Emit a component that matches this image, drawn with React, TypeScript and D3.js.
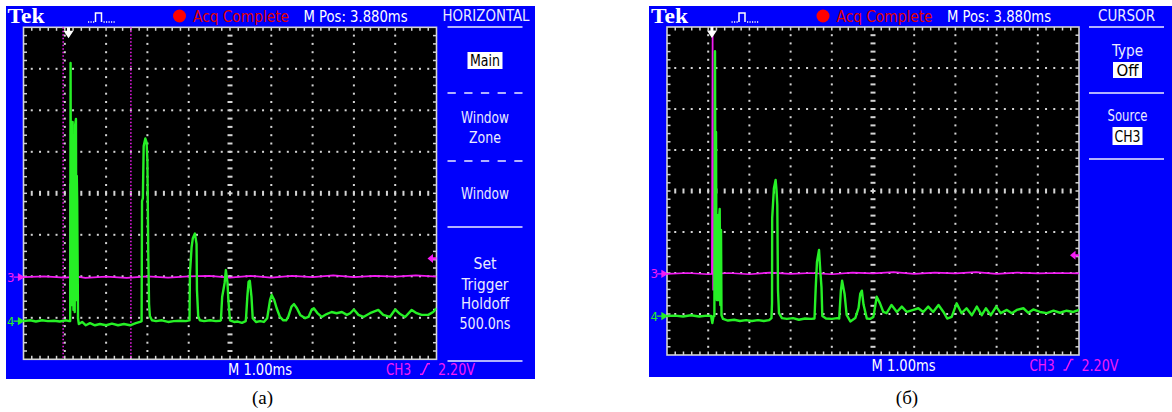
import React from "react";
import * as d3 from "d3";

type Pt = [number, number];

// Screen (a), CH4 green trace: [time in divisions from the left edge, level in divisions above the CH4 marker]
const ch4A: Pt[] = [
  [0, 0], [0.16, 0.02], [0.3, -0.01], [0.45, 0.02], [0.59, 0], [0.74, 0.01], [0.88, -0.01], [1.03, 0.02], [1.11, 0],
  [1.13, 0], [1.14, 6.22], [1.15, 0.51], [1.16, 4.5], [1.17, 4.6], [1.18, 0.39], [1.19, 4.8], [1.2, 1.5], [1.21, 0.27], [1.22, 4.36],
  [1.23, 1.2], [1.24, 0.22], [1.25, 4.72], [1.27, 4.87], [1.28, 0.51], [1.29, 3.5], [1.3, 2.92], [1.32, 0.07], [1.34, -0.07],
  [1.42, -0.02], [1.51, -0.1], [1.61, -0.05], [1.73, -0.1], [1.85, -0.07], [2.0, -0.1], [2.14, -0.06],
  [2.29, -0.1], [2.43, -0.07], [2.58, -0.1], [2.72, -0.05], [2.82, -0.02],
  [2.86, 0], [2.87, 2.89], [2.89, 2.96], [2.91, 4.22], [2.95, 4.4], [2.98, 4.31], [3.0, 3.86], [3.02, 1.71],
  [3.04, 0.41], [3.06, 0.12], [3.11, 0.02],
  [3.21, 0], [3.35, 0.02], [3.5, -0.02], [3.64, 0], [3.79, 0.01], [3.93, 0], [4.01, 0.02],
  [4.02, 0.02], [4.03, 1.16], [4.07, 1.78], [4.1, 2.0], [4.15, 2.11], [4.19, 1.86], [4.2, 0.75], [4.23, 0.12], [4.27, 0.02],
  [4.37, 0], [4.52, 0.02], [4.66, 0], [4.76, 0.01],
  [4.78, 0.02], [4.81, 0.58], [4.84, 0.75], [4.87, 0.92], [4.9, 1.23], [4.94, 0.92], [4.96, 0.51], [5.0, 0.02],
  [5.1, -0.02], [5.19, -0.01], [5.29, -0.04], [5.38, 0],
  [5.39, 0.1], [5.42, 0.59], [5.45, 0.95], [5.48, 0.97], [5.52, 0.59], [5.55, 0.07], [5.63, -0.02], [5.73, 0], [5.82, -0.02],
  [5.9, 0.07], [5.97, 0.51], [6.01, 0.63], [6.07, 0.51], [6.13, 0.31], [6.21, 0.1], [6.29, 0.02], [6.36, 0.02],
  [6.41, 0.1], [6.49, 0.35], [6.55, 0.41], [6.62, 0.31], [6.7, 0.15], [6.82, 0.07],
  [6.9, 0.1], [6.98, 0.28], [7.03, 0.31], [7.11, 0.2], [7.22, 0.1], [7.34, 0.17], [7.46, 0.22], [7.58, 0.19],
  [7.71, 0.22], [7.83, 0.15], [7.91, 0.19], [8.0, 0.28], [8.11, 0.15], [8.23, 0.1], [8.39, 0.19], [8.59, 0.27],
  [8.71, 0.15], [8.87, 0.1], [9.0, 0.28], [9.12, 0.17], [9.24, 0.1], [9.4, 0.27], [9.52, 0.19], [9.64, 0.15],
  [9.8, 0.15], [9.92, 0.22], [10, 0.31],
];

// Screen (a), CH3 magenta trace, level above the CH3 marker
const ch3A: Pt[] = [
  [0, 0], [0.5, 0.02], [1.0, -0.01], [1.12, 0], [1.13, 2.24], [1.14, -0.51], [1.16, -0.02], [1.2, 0.19],
  [1.25, 0.02], [1.5, -0.02], [2, 0.01], [2.5, -0.02], [3, 0.02], [3.5, -0.01], [4, 0.02], [4.5, 0.03],
  [5, -0.01], [5.5, 0.03], [6, -0.01], [6.5, 0.03], [7, 0], [7.5, 0.04], [8, 0], [8.5, 0.03], [9, 0.01],
  [9.5, 0.04], [10, 0.01],
];

// Screen (б), CH4 green trace
const ch4B: Pt[] = [
  [0, 0], [0.19, 0.01], [0.39, -0.01], [0.58, 0.02], [0.78, -0.01], [0.97, 0.01], [1.07, 0], [1.1, -0.17],
  [1.13, 0], [1.15, 0], [1.165, 6.46], [1.18, 0.88], [1.19, 4.49], [1.2, 1.0], [1.21, 0.39], [1.226, 2.46], [1.235, 0.8], [1.245, 0.39],
  [1.262, 2.34], [1.279, 2.61], [1.294, 0.27], [1.311, 2.1], [1.323, 0.02], [1.36, -0.07],
  [1.48, -0.11], [1.63, -0.09], [1.77, -0.12], [1.92, -0.1], [2.06, -0.12], [2.21, -0.1], [2.35, -0.12], [2.48, -0.1],
  [2.536, -0.05], [2.549, 0.32], [2.553, 2.39], [2.595, 3.12], [2.636, 3.32], [2.658, 3.07], [2.677, 2.71],
  [2.694, 0.63], [2.718, 0.07], [2.79, -0.05],
  [2.91, -0.07], [3.06, -0.05], [3.2, -0.09], [3.35, -0.06], [3.5, -0.07], [3.58, -0.06], [3.61, 0.7],
  [3.64, 1.32], [3.69, 1.61], [3.72, 1.11], [3.75, 0.7], [3.77, 0], [3.86, -0.06], [4.0, -0.07], [4.13, -0.05],
  [4.18, -0.06], [4.22, 0.62], [4.25, 0.86], [4.28, 0.7], [4.31, 0.54], [4.36, 0.03], [4.45, -0.13], [4.57, -0.05],
  [4.65, 0.2], [4.69, 0.54], [4.73, 0.62], [4.77, 0.28], [4.85, -0.06], [4.93, -0.07], [5.01, -0.02],
  [5.09, 0.47], [5.17, 0.31], [5.25, 0.1], [5.33, 0.07], [5.45, 0.27], [5.58, 0.1], [5.7, 0.23], [5.82, 0.1],
  [5.98, 0.15], [6.1, 0.19], [6.22, 0.1], [6.34, 0.23], [6.46, 0.1], [6.59, 0.27], [6.71, 0.1], [6.8, -0.06],
  [6.91, -0.02], [7.03, 0.31], [7.15, 0.07], [7.27, 0.19], [7.4, 0.02], [7.52, 0.23], [7.64, 0.02], [7.74, 0.19],
  [7.86, 0.02], [7.99, 0.23], [8.1, 0.07], [8.25, 0.15], [8.37, 0.07], [8.49, 0.15], [8.65, 0.19], [8.77, 0.08],
  [8.89, 0.16], [9.05, 0.1], [9.22, 0.07], [9.38, 0.13], [9.54, 0.08], [9.7, 0.13], [9.86, 0.1], [10, 0.15],
];

// Screen (б), CH3 magenta trace
const ch3B: Pt[] = [
  [0, 0], [0.5, 0.02], [1.0, -0.01], [1.09, 0], [1.107, 5.85], [1.121, -0.39], [1.136, 0], [1.5, 0.02],
  [2, -0.01], [2.5, 0.03], [3, 0], [3.5, 0.02], [4, -0.01], [4.5, 0.03], [5, 0.01], [5.5, 0.04], [6, 0],
  [6.5, 0.03], [7, 0.01], [7.5, 0.04], [8, 0], [8.5, 0.03], [9, 0.01], [9.5, 0.02], [10, 0.01],
];

// channel ground markers, divisions from the bottom of the screen
const ch3PosA = 1.98;
const ch4PosA = 0.92;
const ch3PosB = 1.98;
const ch4PosB = 0.95;
const trigLevel = 2.43; // divisions from bottom
const trigPos = 1.09; // divisions from left
const cursorsA = [0.96, 2.6];

const headerTexts = ["Acq Complete", "M Pos: 3.880ms"];
const footerTexts = ["M 1.00ms", "CH3", "2.20V"];
const menuA = ["HORIZONTAL", "Main", "Window", "Zone", "Window", "Set", "Trigger", "Holdoff", "500.0ns"];
const menuB = ["CURSOR", "Type", "Off", "Source", "CH3"];
const captions = ["(a)", "(б)"];

const FONT = "'Liberation Sans Narrow', 'Arial Narrow', 'DejaVu Sans Condensed', sans-serif";
const SERIF = "'Liberation Serif', 'Times New Roman', serif";
const BLUE = "#0000fc";
const GREEN = "#26f026";
const MAGENTA = "#f41cf4";
const GRID = "#d4d4d4";
const MENU = "#ececff";

type PanelProps = {
  id: string;
  box: [number, number, number, number];
  gx0: number; gx1: number; gy0: number; gy1: number;
  ch4: Pt[]; ch3: Pt[]; ch4Pos: number; ch3Pos: number;
  cursors?: number[];
  menu: (mc: number) => React.ReactNode;
};

const T = (p: any) => (
  <text fontFamily={FONT} lengthAdjust="spacingAndGlyphs" {...p} />
);

function Graticule({ sx, sy }: { sx: d3.ScaleLinear<number, number>; sy: d3.ScaleLinear<number, number> }) {
  const [x0, x1] = sx.range();
  const [y1, y0] = sy.range();
  const fx = d3.range(1, 50).map((j) => j / 5);
  const fy = d3.range(1, 40).map((j) => j / 5);
  const els: React.ReactNode[] = [];
  d3.range(1, 10).forEach((i) => {
    if (i === 5) return;
    fy.forEach((v, k) => els.push(<rect key={`v${i}-${k}`} x={sx(i) - 1} y={sy(v) - 1} width={2} height={2} fill={GRID} />));
  });
  d3.range(1, 8).forEach((i) => {
    if (i === 4) return;
    fx.forEach((v, k) => els.push(<rect key={`h${i}-${k}`} x={sx(v) - 1} y={sy(i) - 1} width={2} height={2} fill={GRID} />));
  });
  fy.forEach((v, k) => els.push(<rect key={`cv${k}`} x={sx(5) - 2.5} y={sy(v) - 1} width={5} height={2} fill={GRID} />));
  fx.forEach((v, k) => els.push(<rect key={`ch${k}`} x={sx(v) - 1} y={sy(4) - 2.5} width={2} height={5} fill={GRID} />));
  fx.forEach((v, k) => {
    els.push(<line key={`tt${k}`} x1={sx(v)} x2={sx(v)} y1={y0} y2={y0 + 3.5} stroke={GRID} strokeWidth={1.5} />);
    els.push(<line key={`tb${k}`} x1={sx(v)} x2={sx(v)} y1={y1 - 3.5} y2={y1} stroke={GRID} strokeWidth={1.5} />);
  });
  fy.forEach((v, k) => {
    els.push(<line key={`tl${k}`} x1={x0} x2={x0 + 3.5} y1={sy(v)} y2={sy(v)} stroke={GRID} strokeWidth={1.5} />);
    els.push(<line key={`tr${k}`} x1={x1 - 3.5} x2={x1} y1={sy(v)} y2={sy(v)} stroke={GRID} strokeWidth={1.5} />);
  });
  return (
    <g>
      <rect x={x0} y={y0} width={x1 - x0} height={y1 - y0} fill="#000" />
      {els}
      <rect x={x0} y={y0} width={x1 - x0} height={y1 - y0} fill="none" stroke={GRID} strokeWidth={1.6} />
    </g>
  );
}

function Panel(p: PanelProps) {
  const sx = d3.scaleLinear().domain([0, 10]).range([p.gx0, p.gx1]);
  const sy = d3.scaleLinear().domain([0, 8]).range([p.gy1, p.gy0]);
  const line4 = d3.line<Pt>().x((d) => sx(d[0])).y((d) => sy(d[1] + p.ch4Pos));
  const line3 = d3.line<Pt>().x((d) => sx(d[0])).y((d) => sy(d[1] + p.ch3Pos));
  const [bx0, by0, bx1, by1] = p.box;
  const g = p.gx0;
  const mc = p.gx1 + 48.5;
  const y3 = sy(p.ch3Pos);
  const y4 = sy(p.ch4Pos);
  const yt = sy(trigLevel);
  const xt = sx(trigPos);
  const fb = p.gy1 + 16;
  return (
    <g>
      <rect x={bx0} y={by0} width={bx1 - bx0} height={by1 - by0} fill={BLUE} />
      {/* header */}
      <text x={g - 16} y={22.5} fontFamily={SERIF} fontWeight="bold" fontSize={20} fill="#fff" textLength={37} lengthAdjust="spacingAndGlyphs">Tek</text>
      <path d={`M${g + 64.5},22h1.2M${g + 67},22h1.2M${g + 69.5},22h1.2M${g + 72},22V13h6V22M${g + 80},22h1.2M${g + 82.5},22h1.2M${g + 85},22h1.2M${g + 87.5},22h1.2M${g + 90},22h1.2`} stroke="#fff" strokeWidth={1.5} fill="none" />
      <circle cx={g + 156} cy={16} r={6.5} fill="#ff0000" />
      <T x={g + 169.5} y={21.5} fontSize={16} fill="#e00000" textLength={96}>{headerTexts[0]}</T>
      <T x={g + 280} y={21.5} fontSize={16} fill="#fff" textLength={104}>{headerTexts[1]}</T>
      {/* screen */}
      <Graticule sx={sx} sy={sy} />
      <clipPath id={`clip-${p.id}`}>
        <rect x={p.gx0} y={p.gy0} width={p.gx1 - p.gx0} height={p.gy1 - p.gy0} />
      </clipPath>
      <g clipPath={`url(#clip-${p.id})`}>
        {(p.cursors || []).map((c, i) => (
          <line key={i} x1={sx(c)} x2={sx(c)} y1={p.gy0} y2={p.gy1} stroke={MAGENTA} strokeWidth={1.5} strokeDasharray="1.5 2" />
        ))}
        <path d={line3(p.ch3) || ""} fill="none" stroke={MAGENTA} strokeWidth={1.7} strokeLinejoin="round" />
        <path d={line4(p.ch4) || ""} fill="none" stroke={GREEN} strokeWidth={2.4} strokeLinejoin="round" />
      </g>
      {/* trigger position arrow */}
      <path d={`M${xt - 1.5},${p.gy0}h3v3.5h3.5L${xt},${p.gy0 + 11}L${xt - 5},${p.gy0 + 3.5}h3.5Z`} fill="#fff" />
      {/* trigger level arrow */}
      <path d={`M${p.gx1 - 9},${yt}L${p.gx1 - 3.5},${yt - 4.5}V${yt - 1.2}H${p.gx1}V${yt + 1.2}H${p.gx1 - 3.5}V${yt + 4.5}Z`} fill={MAGENTA} />
      {/* channel markers */}
      <text x={g - 16.5} y={y3 + 4.5} fontFamily={FONT} fontSize={13} fill={MAGENTA}>3</text>
      <path d={`M${g - 10},${y3}H${g - 2}M${g - 5},${y3 - 3}L${g},${y3}L${g - 5},${y3 + 3}Z`} stroke={MAGENTA} fill={MAGENTA} strokeWidth={1.3} />
      <text x={g - 16.5} y={y4 + 4.5} fontFamily={FONT} fontSize={13} fill={GREEN}>4</text>
      <path d={`M${g - 10},${y4}H${g - 2}M${g - 5},${y4 - 3}L${g},${y4}L${g - 5},${y4 + 3}Z`} stroke={GREEN} fill={GREEN} strokeWidth={1.3} />
      {/* footer */}
      <T x={g + 204.5} y={fb} fontSize={16} fill="#fff" textLength={64}>{footerTexts[0]}</T>
      <T x={g + 362.5} y={fb} fontSize={16} fill={MAGENTA} textLength={25}>{footerTexts[1]}</T>
      <path d={`M${g + 396.5},${fb - 1}h2.5l5,-10.5h2.5`} stroke={MAGENTA} strokeWidth={1.5} fill="none" />
      <T x={g + 414.5} y={fb} fontSize={16} fill={MAGENTA} textLength={37}>{footerTexts[2]}</T>
      {p.menu(mc)}
    </g>
  );
}

const hline = (mc: number, y: number, dashed = false) => (
  <line x1={mc - 37.5} x2={mc + 37.5} y1={y} y2={y} stroke={MENU} strokeWidth={1.6} strokeDasharray={dashed ? "8.3 8.4" : undefined} />
);
const mtext = (mc: number, y: number, s: string, w: number, fill = MENU) => (
  <T x={mc} y={y} fontSize={16.5} fill={fill} textAnchor="middle" textLength={w}>{s}</T>
);

const menuLeft = (mc: number) => (
  <g>
    {mtext(mc + 1, 20.5, menuA[0], 87)}
    {hline(mc, 27)}
    <rect x={mc - 17.5} y={52} width={35} height={17} fill="#fff" />
    {mtext(mc, 65.5, menuA[1], 30, "#000")}
    {hline(mc, 93, true)}
    {mtext(mc, 122.5, menuA[2], 48)}
    {mtext(mc, 142.5, menuA[3], 32)}
    {hline(mc, 161, true)}
    {mtext(mc, 199, menuA[4], 48)}
    {hline(mc, 227)}
    {mtext(mc, 268.5, menuA[5], 23)}
    {mtext(mc, 289.5, menuA[6], 47)}
    {mtext(mc, 308.5, menuA[7], 48)}
    {mtext(mc, 328.5, menuA[8], 51)}
    {hline(mc, 361)}
  </g>
);

const menuRight = (mc: number) => (
  <g>
    {mtext(mc - 1, 20.5, menuB[0], 57)}
    {hline(mc - 1, 27)}
    {mtext(mc, 56, menuB[1], 31)}
    <rect x={mc - 14.5} y={62} width={29} height={16} fill="#fff" />
    {mtext(mc, 75.5, menuB[2], 22, "#000")}
    {hline(mc - 1, 93)}
    {mtext(mc, 121, menuB[3], 40)}
    <rect x={mc - 15} y={127} width={30} height={18} fill="#fff" />
    {mtext(mc, 141.5, menuB[4], 26, "#000")}
    {hline(mc - 1, 159)}
  </g>
);

export default function App() {
  return (
    <svg width={1172} height={412} style={{ position: "absolute", left: 0, top: 0, background: "#fff" }}>
      <Panel id="a" box={[6, 6, 535, 379]} gx0={23.5} gx1={436.5} gy0={27.3} gy1={359.3}
        ch4={ch4A} ch3={ch3A} ch4Pos={ch4PosA} ch3Pos={ch3PosA} cursors={cursorsA} menu={menuLeft} />
      <Panel id="b" box={[649, 6, 1172, 377]} gx0={667} gx1={1079} gy0={27} gy1={355}
        ch4={ch4B} ch3={ch3B} ch4Pos={ch4PosB} ch3Pos={ch3PosB} menu={menuRight} />
      <text x={262.5} y={404} fontFamily={SERIF} fontSize={19} textAnchor="middle" fill="#000">{captions[0]}</text>
      <text x={907} y={404} fontFamily={SERIF} fontSize={19} textAnchor="middle" fill="#000">{captions[1]}</text>
    </svg>
  );
}
